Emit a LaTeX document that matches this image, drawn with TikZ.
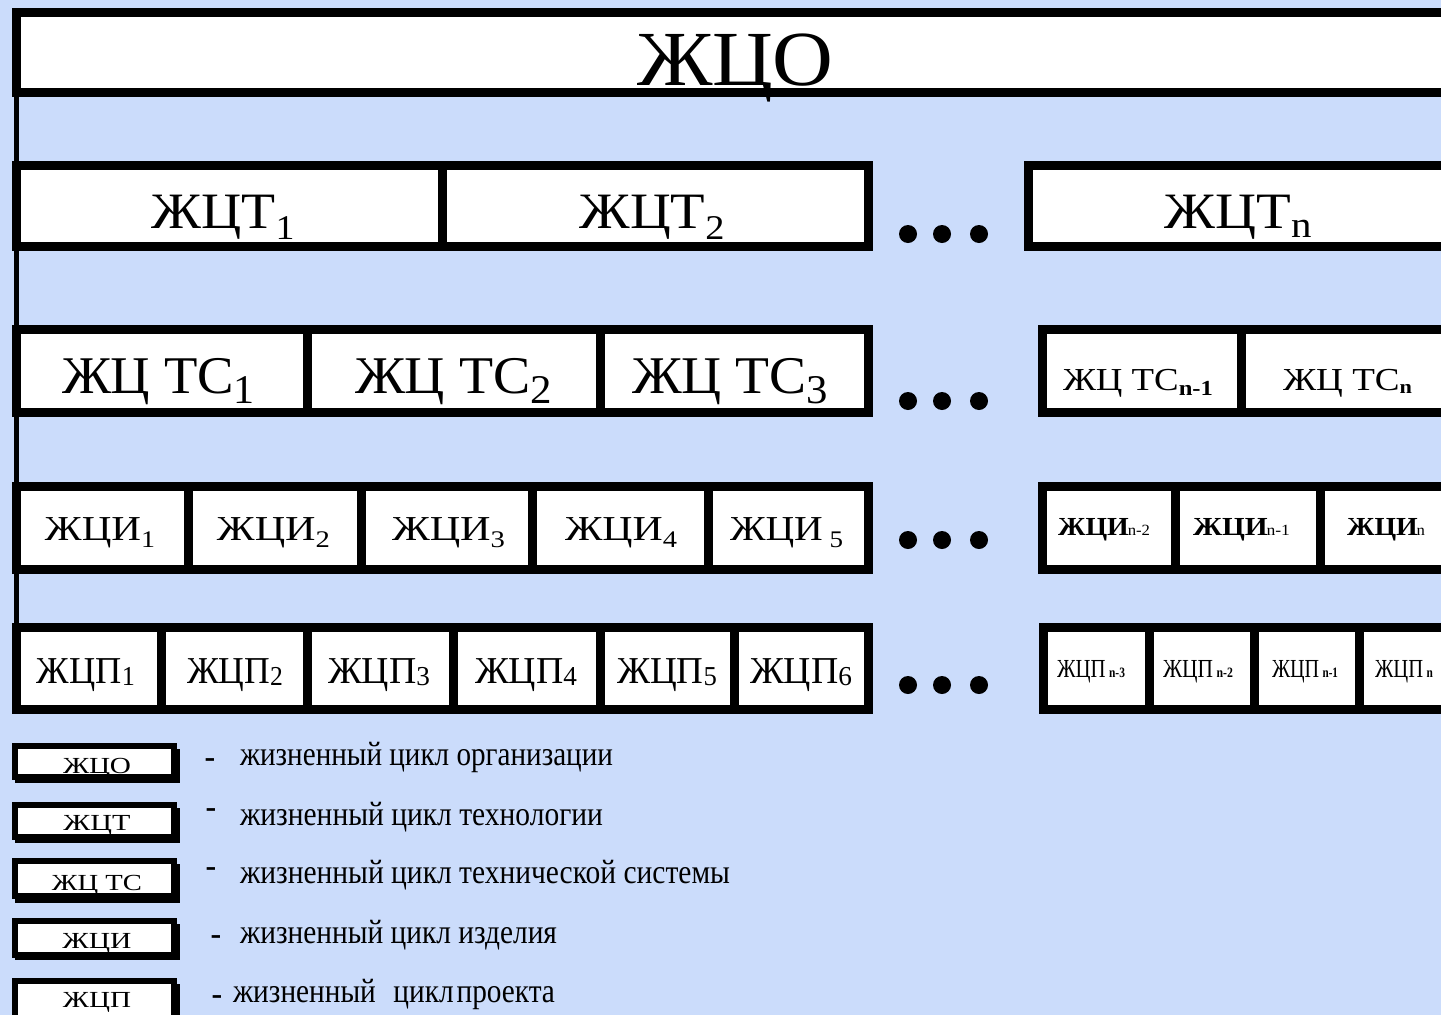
\documentclass[tikz,border=0pt]{standalone}
\usepackage{fontspec}
\setmainfont{Liberation Serif}
\usepackage{graphicx}
\definecolor{bgblue}{RGB}{203,220,251}
\newcommand{\sbs}[3]{\raisebox{-#2pt}{\scalebox{#1}{#3}}}
\newcommand{\fsz}[1]{\fontsize{#1}{#1}\selectfont}
\newcommand{\cellbox}[9]{%
  \node[cellst, minimum width=#3pt-#2pt, minimum height=#5pt-#4pt] (#1) at ({(#2+#3)/2},{(#4+#5)/2}) {};
  \node[txt] (#1t) at (#6,#7) {\resizebox{#8pt}{\height}{#9}};}
\newcommand{\legbox}[7]{%
  \fill[black] (15,{#2+3}) rectangle (180,#4);
  \node[lboxst, minimum width=159pt, minimum height=#3pt-#2pt] (#1) at (94.5,{(#2+#3)/2}) {};
  \node[txt] (#1t) at (97,#5) {\resizebox{#6pt}{\height}{\fsz{23}#7}};}
\begin{document}
\begin{tikzpicture}[x=1pt,y=-1pt,
  cellst/.style={draw=black, fill=white, line width=9pt, inner sep=0pt, outer sep=0pt},
  txt/.style={anchor=base, inner sep=0pt, outer sep=0pt},
  dotst/.style={circle, fill=black, minimum size=18pt, inner sep=0pt},
  lboxst/.style={draw=black, fill=white, line width=6pt, inner sep=0pt, outer sep=0pt},
  ltxt/.style={anchor=base west, inner sep=0pt, outer sep=0pt, font=\fsz{34}},
  dashst/.style={anchor=base, inner sep=0pt, outer sep=0pt, font=\fsz{32}\bfseries},
  connst/.style={draw=black, line width=5pt}]
\useasboundingbox (0,0) rectangle (1441,1015);
\begin{scope}
\clip (0,0) rectangle (1441,1015);
\fill[bgblue] (0,0) rectangle (1441,1015);
% ЖЦО
\cellbox{o}{16}{1454}{12.5}{92.5}{735}{85}{196}{\fsz{78}ЖЦО}
% ЖЦТ row
\cellbox{t1}{16}{442}{165}{246}{223}{228}{143}{\fsz{51}ЖЦТ\sbs{0.68}{11}{1}}
\cellbox{t2}{442}{868}{165}{246}{652}{228}{145}{\fsz{51}ЖЦТ\sbs{0.68}{11}{2}}
\cellbox{tn}{1028.5}{1447.5}{165}{246}{1238}{228}{147}{\fsz{51}ЖЦТ\sbs{0.72}{9}{n}}
% ЖЦ ТС row
\cellbox{c1}{16}{307.5}{329}{412.5}{158.5}{393}{193}{\fsz{53}ЖЦ ТС\sbs{0.77}{10}{1}}
\cellbox{c2}{307.5}{600}{329}{412.5}{453.5}{393}{197}{\fsz{53}ЖЦ ТС\sbs{0.77}{10}{2}}
\cellbox{c3}{600}{868}{329}{412.5}{730}{393}{196}{\fsz{53}ЖЦ ТС\sbs{0.77}{10}{3}}
\cellbox{cn1}{1042.5}{1241}{329}{412.5}{1138}{390}{150}{\fsz{32}ЖЦ ТС\sbs{0.67}{5}{\bfseries n-1}}
\cellbox{cn}{1241}{1454}{329}{412.5}{1347.5}{390}{129}{\fsz{32}ЖЦ ТС\sbs{0.6}{3}{\bfseries n}}
% ЖЦИ row
\cellbox{i1}{16}{188}{486}{569}{100}{540}{110}{\fsz{35}ЖЦИ\sbs{0.68}{7}{1}}
\cellbox{i2}{188}{361.5}{486}{569}{273.5}{540}{113}{\fsz{35}ЖЦИ\sbs{0.68}{7}{2}}
\cellbox{i3}{361.5}{532}{486}{569}{448.5}{540}{113}{\fsz{35}ЖЦИ\sbs{0.68}{7}{3}}
\cellbox{i4}{532}{708}{486}{569}{621}{540}{112}{\fsz{35}ЖЦИ\sbs{0.68}{7}{4}}
\cellbox{i5}{708}{868}{486}{569}{786.5}{540}{113}{\fsz{35}ЖЦИ\,\sbs{0.68}{7}{5}}
\cellbox{in2}{1042.5}{1175.5}{486}{569}{1104}{535}{92}{\fsz{26}\bfseries ЖЦИ\kern-1pt\sbs{0.6}{0}{\mdseries n-2}}
\cellbox{in1}{1175.5}{1320}{486}{569}{1241.5}{535}{97}{\fsz{26}\bfseries ЖЦИ\kern-1pt\sbs{0.6}{0}{\mdseries n-1}}
\cellbox{in}{1320}{1452}{486}{569}{1386}{535}{78}{\fsz{26}\bfseries ЖЦИ\kern-1pt\sbs{0.6}{0}{\mdseries n}}
% ЖЦП row
\cellbox{p1}{16}{161}{627.5}{709}{86}{683}{98}{\fsz{38}ЖЦП\sbs{0.72}{2}{1}}
\cellbox{p2}{161}{307.5}{627.5}{709}{235}{683}{96}{\fsz{38}ЖЦП\sbs{0.72}{2}{2}}
\cellbox{p3}{307.5}{453.5}{627.5}{709}{379}{683}{102}{\fsz{38}ЖЦП\sbs{0.72}{2}{3}}
\cellbox{p4}{453.5}{600.5}{627.5}{709}{526}{683}{102}{\fsz{38}ЖЦП\sbs{0.72}{2}{4}}
\cellbox{p5}{600.5}{734}{627.5}{709}{667}{683}{100}{\fsz{38}ЖЦП\sbs{0.72}{2}{5}}
\cellbox{p6}{734}{868}{627.5}{709}{801}{683}{102}{\fsz{38}ЖЦП\sbs{0.72}{2}{6}}
\cellbox{pn3}{1043.5}{1149}{627.5}{709}{1091}{677}{68}{\fsz{26}ЖЦП\,\sbs{0.55}{0}{\bfseries n-3}}
\cellbox{pn2}{1149}{1254}{627.5}{709}{1198}{677}{70}{\fsz{26}ЖЦП\,\sbs{0.55}{0}{\bfseries n-2}}
\cellbox{pn1}{1254}{1359.5}{627.5}{709}{1305}{677}{66}{\fsz{26}ЖЦП\,\sbs{0.55}{0}{\bfseries n-1}}
\cellbox{pn}{1359.5}{1448.5}{627.5}{709}{1404}{677}{58}{\fsz{26}ЖЦП\,\sbs{0.55}{0}{\bfseries n}}
% left connector
\draw[connst] (o.south west) -- (p1.north west);
% dots
\foreach \yy/\rr in {234/1,401/2,540/3,685/4}{
  \node[dotst] (d\rr a) at (908,\yy) {};
  \node[dotst] (d\rr b) at (942,\yy) {};
  \node[dotst] (d\rr c) at (979,\yy) {};
}
% legend
\legbox{lb1}{746}{777}{783}{773}{68}{ЖЦО}
\legbox{lb2}{805}{837}{843}{830}{67}{ЖЦТ}
\legbox{lb3}{861}{896}{903}{890}{90}{ЖЦ ТС}
\legbox{lb4}{921}{955}{960}{948}{69}{ЖЦИ}
\legbox{lb5}{981}{1022}{1030}{1007}{68}{ЖЦП}
\node[dashst] (ld1) at (210,767) {-};
\node[dashst] (ld2) at (211,817) {-};
\node[dashst] (ld3) at (211,876) {-};
\node[dashst] (ld4) at (216,944) {-};
\node[dashst] (ld5) at (217,1004) {-};
\node[ltxt] (lt1) at (240,765) {\resizebox{373pt}{\height}{жизненный цикл организации}};
\node[ltxt] (lt2) at (240,825) {\resizebox{363pt}{\height}{жизненный цикл технологии}};
\node[ltxt] (lt3) at (240,883) {\resizebox{490pt}{\height}{жизненный цикл технической системы}};
\node[ltxt] (lt4) at (240,943) {\resizebox{317pt}{\height}{жизненный цикл изделия}};
\node[ltxt] (lt5) at (233,1002) {\resizebox{322pt}{\height}{жизненный\hspace{0.6em}цикл\hspace{0.1em}проекта}};
\end{scope}
\end{tikzpicture}
\end{document}
